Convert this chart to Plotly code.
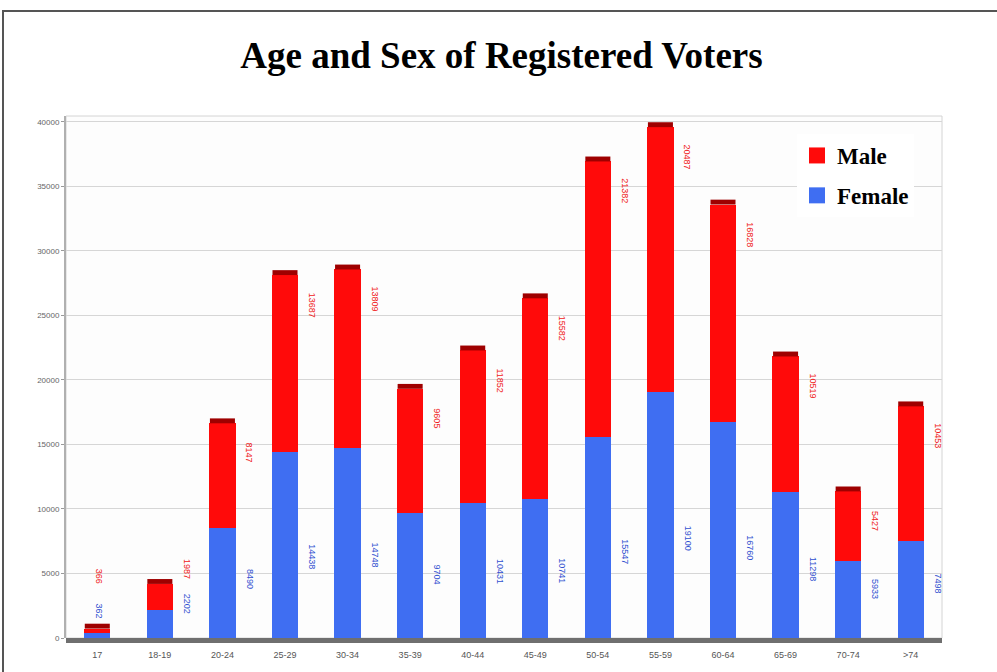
import plotly.graph_objects as go

age_groups = ["17", "18-19", "20-24", "25-29", "30-34", "35-39", "40-44",
              "45-49", "50-54", "55-59", "60-64", "65-69", "70-74", ">74"]
female = [362, 2202, 8490, 14438, 14748, 9704, 10431, 10741, 15547, 19100,
          16760, 11298, 5933, 7498]
male = [366, 1987, 8147, 13687, 13809, 9605, 11852, 15582, 21382, 20487,
        16828, 10519, 5427, 10453]
y_ticks = [0, 5000, 10000, 15000, 20000, 25000, 30000, 35000, 40000]

RED = "#ff0a0a"
BLUE = "#3f6ef2"
CAP = "#9e0000"
W, H = 997, 672
L, R, T, B = 66, 55, 116, 34
pw, ph = W - L - R, H - T - B

def px_x(p):
    return (p - L) / pw

def px_y(p):
    return (H - B - p) / ph

fig = go.Figure()
fig.add_trace(go.Bar(x=age_groups, y=female, name="Female", marker_color=BLUE,
                     marker_line_width=0, width=0.42, showlegend=False))
fig.add_trace(go.Bar(x=age_groups, y=male, name="Male", marker_color=RED,
                     marker_line_width=0, width=0.42, showlegend=False))
# legend entries with large square symbols
fig.add_trace(go.Scatter(x=[None], y=[None], mode="markers", name="Male", legendgroup="m",
                         marker=dict(symbol="square", size=20, color=RED)))
fig.add_trace(go.Scatter(x=[None], y=[None], mode="markers", name="Female", legendgroup="f",
                         marker=dict(symbol="square", size=20, color=BLUE)))

shapes = []
annotations = []
for i, (f, m) in enumerate(zip(female, male)):
    total = f + m
    # dark top face of the 3-D bar
    shapes.append(dict(type="rect", xref="x", yref="y", x0=i - 0.2, x1=i + 0.2,
                       y0=total, y1=total + 380, fillcolor=CAP, line_width=0,
                       layer="above"))
    f_lab = 0.3 * f + 2000
    m_lab = max(total - 2300, f_lab + 2700)
    xs = 2 if total < 1000 else 27   # tiny bars carry their labels above them
    annotations.append(dict(x=i, y=m_lab, text=str(m),
                            textangle=90, xshift=xs, showarrow=False,
                            font=dict(family="Liberation Sans", size=9, color="#f02020")))
    annotations.append(dict(x=i, y=f_lab, text=str(f),
                            textangle=90, xshift=xs, showarrow=False,
                            font=dict(family="Liberation Sans", size=9, color="#3050d0")))

# plot-area frame
shapes.append(dict(type="rect", xref="paper", yref="paper", x0=0, x1=1, y0=0, y1=1,
                   line=dict(color="#d4d4d4", width=1), layer="below"))
# outer picture frame
shapes.append(dict(type="line", xref="paper", yref="paper", x0=px_x(2), x1=px_x(W + 5),
                   y0=px_y(11), y1=px_y(11), line=dict(color="#555555", width=2)))
shapes.append(dict(type="line", xref="paper", yref="paper", x0=px_x(3), x1=px_x(3),
                   y0=px_y(11), y1=px_y(H + 5), line=dict(color="#555555", width=2)))
# 3-D floor under the bars
shapes.append(dict(type="rect", xref="paper", yref="paper", x0=0, x1=1,
                   y0=px_y(643), y1=px_y(638), fillcolor="#6f6f6f", line_width=0,
                   layer="above"))

fig.update_layout(
    width=W, height=H,
    margin=dict(l=L, r=R, t=T, b=B),
    paper_bgcolor="white", plot_bgcolor="#fdfdfd",
    barmode="stack", bargap=0.58,
    title=dict(text="<b>Age and Sex of Registered Voters</b>", x=0.503, xanchor="center",
               y=1 - 55 / H, yanchor="middle",
               font=dict(family="Liberation Serif", size=37, color="black")),
    legend=dict(x=px_x(797), y=px_y(134), xanchor="left", yanchor="top",
                bgcolor="white", traceorder="grouped", itemsizing="trace",
                font=dict(family="Liberation Serif", size=23, color="black", weight="bold"),
                itemwidth=30, tracegroupgap=7),
    shapes=shapes, annotations=annotations,
    xaxis=dict(type="category", tickfont=dict(family="Liberation Sans", size=9, color="#555555"),
               showgrid=False, ticks="", showline=False, range=[-0.5, 13.5],
               ticklabelstandoff=10),
    yaxis=dict(range=[0, 40450], tickvals=y_ticks, ticktext=[str(v) for v in y_ticks],
               tickfont=dict(family="Liberation Sans", size=8, color="#666666"),
               showgrid=True, gridcolor="#d6d6d6", gridwidth=1,
               showline=True, linecolor="#b0b0b0", linewidth=2,
               ticks="outside", ticklen=3, tickcolor="#999999", zeroline=False),
)

fig.write_html("out.html", config={"displayModeBar": False},
               post_script="document.body.style.margin='0';document.body.style.overflow='hidden';")
